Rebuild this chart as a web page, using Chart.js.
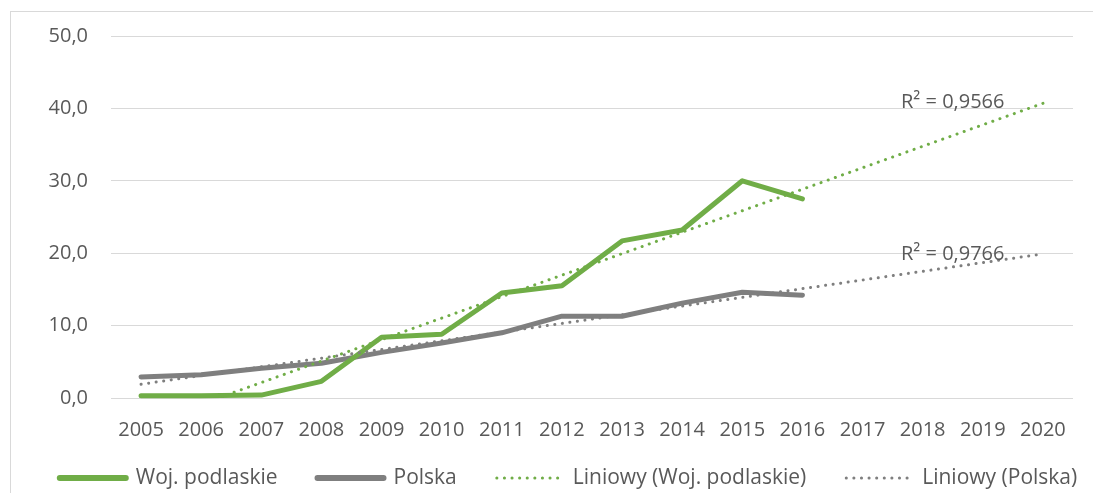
<!DOCTYPE html>
<html>
<head>
<meta charset="utf-8">
<script src="https://cdn.jsdelivr.net/npm/chart.js@4.4.1/dist/chart.umd.min.js"></script>
<style>
  html, body { margin: 0; padding: 0; background: #fff; overflow: hidden; }
  #frame { position: absolute; left: 10px; top: 11px; width: 1200px; height: 600px; border: 1px solid #d9d9d9; }
  #wrap { position: absolute; left: 0; top: 0; width: 1093px; height: 493px; }
</style>
</head>
<body>
<div id="frame"></div>
<div id="wrap"><canvas id="c" width="1093" height="493"></canvas></div>
<script>
const years = ['2005','2006','2007','2008','2009','2010','2011','2012','2013','2014','2015','2016','2017','2018','2019','2020'];
const podlaskie = [0.3, 0.3, 0.4, 2.3, 8.4, 8.8, 14.5, 15.5, 21.7, 23.2, 30.0, 27.5, null, null, null, null];
const polska = [2.9, 3.2, 4.1, 4.8, 6.3, 7.6, 9.0, 11.3, 11.3, 13.1, 14.6, 14.2, null, null, null, null];
const trendPodlaskie = [-3.8, null, null, null, null, null, null, null, null, null, null, null, null, null, null, 40.7];
const trendPolska = [1.9, null, null, null, null, null, null, null, null, null, null, null, null, null, null, 19.9];
const seriesNames = ['Woj. podlaskie', 'Polska', 'Liniowy (Woj. podlaskie)', 'Liniowy (Polska)'];
const r2Labels = ['R² = 0,9566', 'R² = 0,9766'];
const r2Values = [40.8, 19.9];
const yTicks = [0, 10, 20, 30, 40, 50];

const GREEN = '#70ad47';
const GRAY = '#7f7f7f';
const TEXT = '#595959';
const FONT = "'Open Sans', sans-serif";

const legendStyles = [
  { color: GREEN, width: 6, dash: [] },
  { color: GRAY, width: 6, dash: [] },
  { color: GREEN, width: 3, dash: [0.1, 7.5] },
  { color: GRAY, width: 3, dash: [0.1, 7.5] }
];

const r2Plugin = {
  id: 'r2',
  afterDatasetsDraw(chart) {
    const ctx = chart.ctx;
    const xs = chart.scales.x, ys = chart.scales.y;
    ctx.save();
    ctx.font = '20px ' + FONT;
    ctx.fillStyle = TEXT;
    ctx.textAlign = 'center';
    ctx.textBaseline = 'middle';
    r2Labels.forEach((t, i) => {
      ctx.fillText(t, xs.getPixelForValue(13.5), ys.getPixelForValue(r2Values[i]));
    });
    ctx.restore();
  }
};

// Legend drawn below the axis, laid out from measured text widths
const legendPlugin = {
  id: 'bottomLegend',
  afterDraw(chart) {
    const ctx = chart.ctx;
    const sample = 72, textGap = 7, itemGap = 37, y = 478;
    ctx.save();
    ctx.font = '21px ' + FONT;
    const widths = seriesNames.map(n => ctx.measureText(n).width);
    const total = widths.reduce((a, w) => a + sample + textGap + w, 0) + itemGap * (seriesNames.length - 1);
    let x = (57 + 1077) / 2 - total / 2;
    seriesNames.forEach((n, i) => {
      const s = legendStyles[i];
      ctx.beginPath();
      ctx.strokeStyle = s.color;
      ctx.lineWidth = s.width;
      ctx.lineCap = 'round';
      ctx.setLineDash(s.dash);
      ctx.moveTo(x + 3, y);
      ctx.lineTo(x + sample - 3, y);
      ctx.stroke();
      ctx.setLineDash([]);
      ctx.fillStyle = TEXT;
      ctx.textAlign = 'left';
      ctx.textBaseline = 'middle';
      ctx.fillText(n, x + sample + textGap, y);
      x += sample + textGap + widths[i] + itemGap;
    });
    ctx.restore();
  }
};

new Chart(document.getElementById('c'), {
  type: 'line',
  data: {
    labels: years,
    datasets: [
      { label: seriesNames[2], data: trendPodlaskie, borderColor: GREEN, borderWidth: 3, borderDash: [0.1, 7.5], borderCapStyle: 'round', pointRadius: 0, spanGaps: true, order: 0 },
      { label: seriesNames[3], data: trendPolska, borderColor: GRAY, borderWidth: 3, borderDash: [0.1, 7.5], borderCapStyle: 'round', pointRadius: 0, spanGaps: true, order: 1 },
      { label: seriesNames[0], data: podlaskie, borderColor: GREEN, borderWidth: 5, borderCapStyle: 'round', borderJoinStyle: 'round', pointRadius: 0, spanGaps: false, clip: false, order: 2 },
      { label: seriesNames[1], data: polska, borderColor: GRAY, borderWidth: 5, borderCapStyle: 'round', borderJoinStyle: 'round', pointRadius: 0, spanGaps: false, clip: false, order: 3 }
    ]
  },
  plugins: [r2Plugin, legendPlugin],
  options: {
    responsive: false,
    animation: false,
    events: [],
    layout: { padding: { left: 0, right: 0, top: 36, bottom: 0 } },
    scales: {
      x: {
        offset: true,
        grid: { display: false, drawTicks: false },
        border: { display: false },
        afterFit(scale) { scale.height = 95; scale.paddingRight = 20; scale.paddingLeft = 0; },
        ticks: { color: TEXT, font: { family: FONT, size: 20 }, padding: 20, maxRotation: 0, autoSkip: false }
      },
      y: {
        min: 0, max: 50,
        afterBuildTicks(scale) { scale.ticks = yTicks.map(v => ({ value: v })); },
        afterFit(scale) { scale.width = 111; },
        grid: { color: '#d9d9d9', lineWidth: 1, drawTicks: false },
        border: { display: false },
        ticks: {
          color: TEXT, font: { family: FONT, size: 20 }, padding: 23,
          callback: v => v.toFixed(1).replace('.', ',')
        }
      }
    },
    plugins: {
      tooltip: { enabled: false },
      legend: { display: false }
    }
  }
});
</script>
</body>
</html>
